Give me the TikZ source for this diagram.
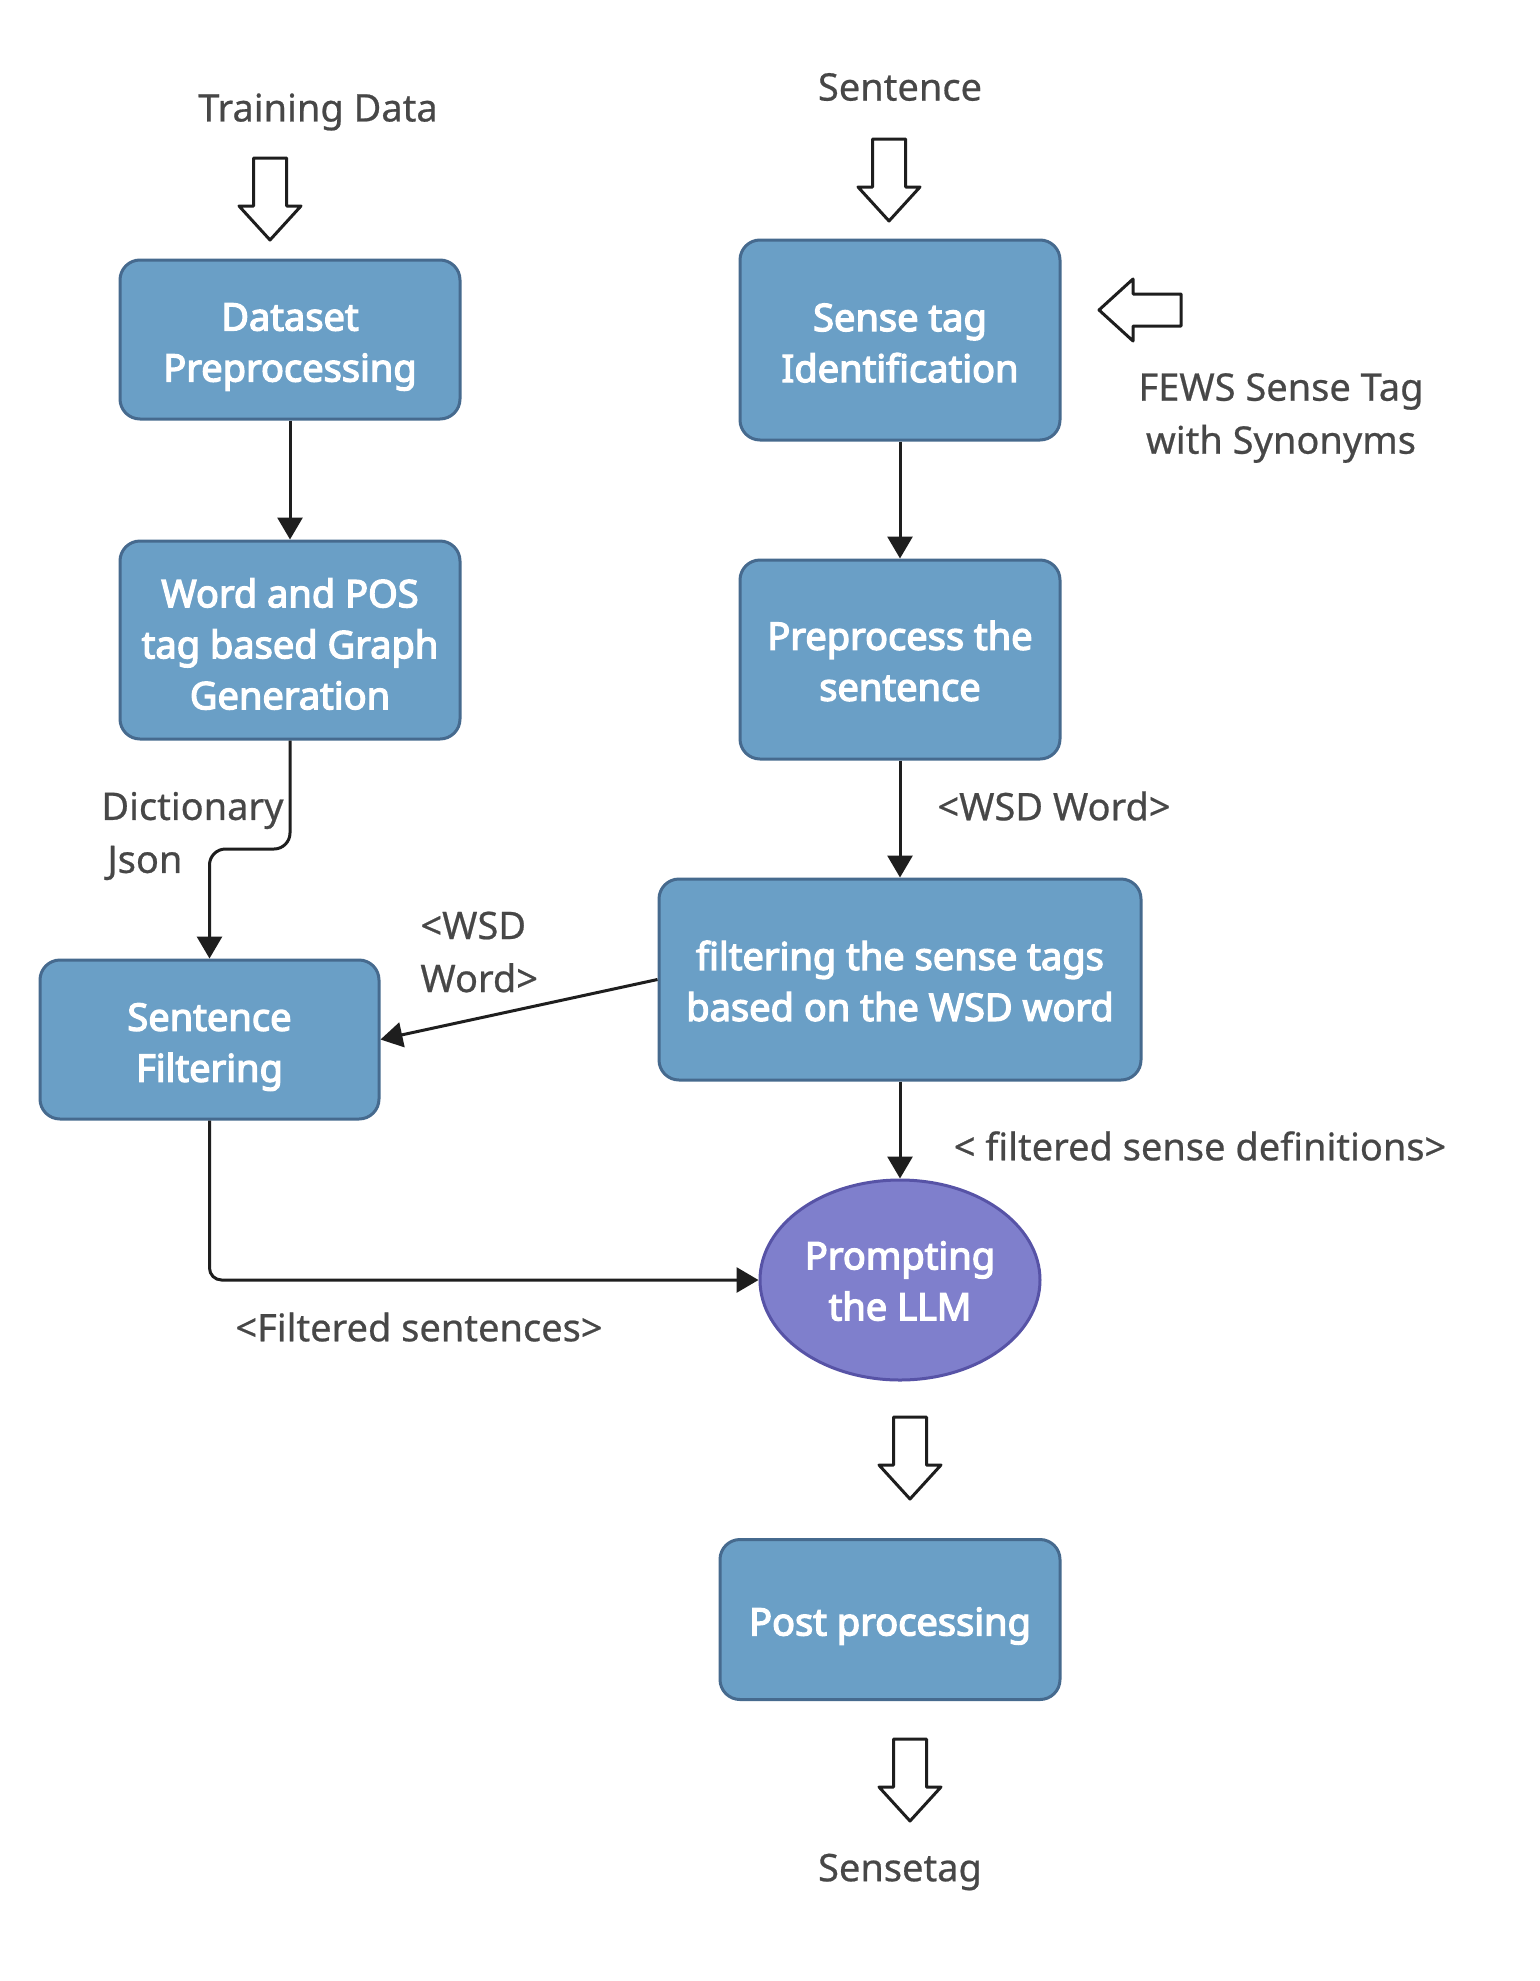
\documentclass[tikz,border=0pt]{standalone}
\usepackage{fontspec}
\setmainfont{Noto Sans}
\newfontfamily\boxfont{Noto Sans}[FakeBold=3.5]
\newfontfamily\labfont{Noto Sans}[FakeBold=0.6]
\usetikzlibrary{arrows.meta,shapes.geometric}
\definecolor{boxfill}{HTML}{6A9FC6}
\definecolor{boxdraw}{HTML}{466A8E}
\definecolor{ellfill}{HTML}{7F7FCC}
\definecolor{elldraw}{HTML}{5753A6}
\definecolor{lbl}{HTML}{474747}
\definecolor{con}{HTML}{1E1E1E}
\tikzset{
  stepbox/.style={draw=boxdraw, fill=boxfill, line width=1.5pt, rounded corners=10pt, inner sep=0pt},
  boxtext/.style={text=white, font=\fontsize{19}{25.5}\selectfont\boxfont, align=center, inner sep=0pt},
  llmnode/.style={ellipse, draw=elldraw, fill=ellfill, line width=1.5pt, inner sep=0pt,
    minimum width=140pt, minimum height=100pt},
  lab/.style={text=lbl, font=\fontsize{19}{26.5}\selectfont\labfont, inner sep=0pt},
  conn/.style={draw=con, line width=1.5pt, -{Triangle[length=11pt,width=12.5pt]}},
  blockarrow/.style={draw=con, line width=1.5pt, line join=round, fill=white},
  dnarrow/.pic={\draw[blockarrow] (-16.5,0) -- (16.5,0) -- (16.5,48) -- (31,48) -- (0,82) -- (-31,48) -- (-16.5,48) -- cycle;}
}
\begin{document}
\begin{tikzpicture}[x=0.5pt,y=-0.5pt]
\fill[white] (0,0) rectangle (1540,1981);
\useasboundingbox (0,0) rectangle (1540,1981);

% boxes
\node[stepbox, minimum width=170pt, minimum height=79.5pt] (dp) at (290,339.5) {};
\node[boxtext] (dpt) at (290,347) {Dataset\\Preprocessing};
\node[stepbox, minimum width=170pt, minimum height=99pt] (wp) at (290,640) {};
\node[boxtext] (wpt) at (290,644) {Word and POS\\tag based Graph\\Generation};
\node[stepbox, minimum width=169.5pt, minimum height=79.5pt] (sf) at (209.5,1039.5) {};
\node[boxtext] (sft) at (209.5,1047) {Sentence\\Filtering};
\node[stepbox, minimum width=160pt, minimum height=100pt] (st) at (900,340) {};
\node[boxtext] (stt) at (900,343) {Sense tag\\Identification};
\node[stepbox, minimum width=160pt, minimum height=99.5pt] (pp) at (900,659.5) {};
\node[boxtext] (ppt) at (900,661) {Preprocess the\\sentence};
\node[stepbox, minimum width=241pt, minimum height=100.5pt] (ft) at (900,979.5) {};
\node[boxtext] (ftt) at (900,981) {filtering the sense tags\\based on the WSD word};
\node[llmnode] (llm) at (900,1280) {};
\node[boxtext] (llmt) at (900,1281) {Prompting\\the LLM};
\node[stepbox, minimum width=170pt, minimum height=80pt] (post) at (890,1619.5) {};
\node[boxtext] (postt) at (890,1626) {Post processing};

% labels
\node[lab] (tdata) at (318,112) {Training Data};
\node[lab] (sent) at (900,87) {Sentence};
\node[lab, align=center] (fews) at (1281,418) {FEWS Sense Tag\\with Synonyms};
\node[lab, align=left, anchor=west] (dict) at (101,836) {Dictionary\\\hspace{3pt}Json};
\node[lab, align=left, anchor=west] (wsdl) at (420,952) {<WSD\\Word>};
\node[lab] (wsdr) at (1054,806) {<WSD Word>};
\node[lab] (fsd) at (1200,1146) {< filtered sense definitions>};
\node[lab] (fsent) at (419,1327) {<Filtered sentences>};
\node[lab] (stag) at (900,1872) {Sensetag};

% block arrows
\pic at (270,158) {dnarrow};
\pic at (889,139) {dnarrow};
\pic at (910,1417) {dnarrow};
\pic at (910,1739) {dnarrow};
\draw[blockarrow] (1181,294) -- (1133,294) -- (1133,279) -- (1099,310) -- (1133,341) -- (1133,326) -- (1181,326) -- cycle;

% connectors
\draw[conn] (dp.south) -- (wp.north);
\draw[conn, rounded corners=8pt] (wp.south) -- (290,849) -- (209.5,849) -- (sf.north);
\draw[conn] (ft.west) -- (sf.east);
\draw[conn, rounded corners=6pt] (sf.south) -- (209.5,1280) -- (llm.west);
\draw[conn] (st.south) -- (pp.north);
\draw[conn] (pp.south) -- (ft.north);
\draw[conn] (ft.south) -- (llm.north);
\end{tikzpicture}
\end{document}
